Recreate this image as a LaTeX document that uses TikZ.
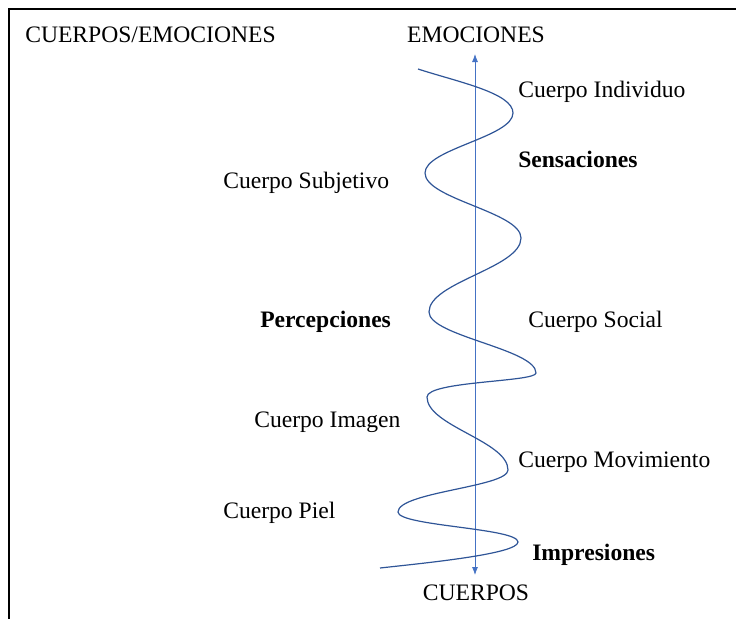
\documentclass[tikz,border=0pt]{standalone}
\usepackage{fontspec}
\setmainfont{Liberation Serif}
\usepackage{tikz}
\usetikzlibrary{arrows.meta}
\definecolor{ejeazul}{HTML}{4472C4}
\definecolor{ondaazul}{HTML}{2F5597}

\begin{document}
\begin{tikzpicture}[x=0.75pt, y=-0.75pt, >={Latex[length=6pt,width=4.5pt]}]
    \tikzstyle{etiqueta} = [inner sep=0pt, anchor=base west, font=\fontsize{17.7}{21}\selectfont];
    \tikzstyle{fase} = [etiqueta, font=\fontsize{17.7}{21}\selectfont\bfseries];
    \tikzstyle{polo} = [etiqueta, anchor=base];
    \tikzstyle{eje} = [draw=ejeazul, line width=0.6pt];
    \tikzstyle{onda} = [draw=ondaazul, line width=0.9pt];

    \useasboundingbox (0,0) rectangle (736,619);
    \draw [line width=0.8pt] (736,9) -- (9,9) -- (9,619);

    % Nodes
    \node [etiqueta] (titulo) at (25,42) {CUERPOS/EMOCIONES};
    \node [polo] (emociones) at (476,42) {EMOCIONES};
    \node [polo] (cuerpos) at (476,600) {CUERPOS};
    \coordinate (arriba) at (475,54);
    \coordinate (abajo) at (475,575);

    \node [etiqueta] (individuo) at (518,97) {Cuerpo Individuo};
    \node [fase] (sensaciones) at (518,167) {Sensaciones};
    \node [etiqueta] (subjetivo) at (223,188) {Cuerpo Subjetivo};
    \node [fase] (percepciones) at (260,327) {Percepciones};
    \node [etiqueta] (social) at (528,327) {Cuerpo Social};
    \node [etiqueta] (imagen) at (254,427) {Cuerpo Imagen};
    \node [etiqueta] (movimiento) at (518,467) {Cuerpo Movimiento};
    \node [etiqueta] (piel) at (223,518) {Cuerpo Piel};
    \node [fase] (impresiones) at (532,560) {Impresiones};

    % Paths
    \draw [eje, <->] (abajo) -- (arriba);
    \draw [onda] (418,69)
        .. controls +(40,13) and +(0,-20) .. (513,113)
        .. controls +(0,24) and +(0,-24) .. (425,173)
        .. controls +(0,26) and +(0,-26) .. (521,238)
        .. controls +(0,30) and +(0,-30) .. (429,312)
        .. controls +(0,24) and +(0,-24) .. (536,373)
        .. controls +(0,9) and +(0,-16) .. (427,397)
        .. controls +(0,29) and +(0,-29) .. (508,470)
        .. controls +(0,17) and +(0,-20) .. (398,512)
        .. controls +(0,14) and +(0,-14) .. (518,542)
        .. controls +(0,12) and +(45,-5) .. (380,568);
\end{tikzpicture}
\end{document}
